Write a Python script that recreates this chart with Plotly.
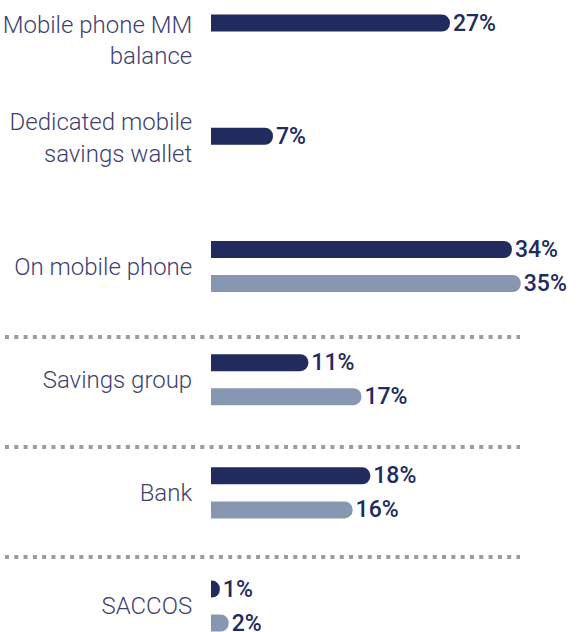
import plotly.graph_objects as go

# --- Data ---
categories = [
    "Mobile phone MM<br>balance",
    "Dedicated mobile<br>savings wallet",
    "On mobile phone",
    "Savings group",
    "Bank",
    "SACCOS",
]
series_dark = [27, 7, 34, 11, 18, 1]
series_light = [None, None, 35, 17, 16, 2]

# --- Style ---
dark_color = "#222b5e"
light_color = "#8797b2"
label_color = "#3f3f70"
font_family = "Roboto, sans-serif"

# the single-bar label sits a bit higher in the original, pad it with an empty line
tick_text = [c + "<br> " if c.startswith("Dedicated") else c for c in categories]

fig = go.Figure()

for values, color in [(series_dark, dark_color), (series_light, light_color)]:
    fig.add_trace(
        go.Bar(
            x=values,
            y=categories,
            orientation="h",
            marker=dict(color=color, cornerradius="50%", line=dict(width=0)),
            text=[f"{v}%" if v is not None else "" for v in values],
            textposition="outside",
            constraintext="none",
            textfont=dict(family=font_family, size=23, color=dark_color, weight=500),
            cliponaxis=False,
            hoverinfo="skip",
        )
    )

# dotted separators between the groups
for sep in [2.623, 3.595, 4.566]:
    fig.add_shape(
        type="line",
        xref="paper",
        yref="y",
        x0=-0.582,
        x1=0.873,
        y0=sep,
        y1=sep,
        line=dict(color="#9c9c9c", width=4, dash="4px,5.3px"),
    )

fig.update_layout(
    width=578,
    height=632,
    barmode="group",
    bargap=0.399,
    bargroupgap=0.5,
    showlegend=False,
    plot_bgcolor="white",
    paper_bgcolor="white",
    margin=dict(l=211, r=13, t=0, b=0),
    font=dict(family=font_family, color=label_color),
)

fig.update_xaxes(range=[0, 40], visible=False)
fig.update_yaxes(
    type="category",
    range=[5.229, -0.354],
    automargin=False,
    showgrid=False,
    zeroline=False,
    showline=False,
    ticks="outside",
    ticklen=13,
    tickcolor="rgba(0,0,0,0)",
    tickvals=categories,
    ticktext=tick_text,
    tickfont=dict(family=font_family, size=24, color=label_color, weight=300),
)

# drop the browser's default page margin so the figure sits at the window corner
fig.write_html(
    "out.html",
    config={"displayModeBar": False},
    post_script="document.body.style.margin = '0';",
)
